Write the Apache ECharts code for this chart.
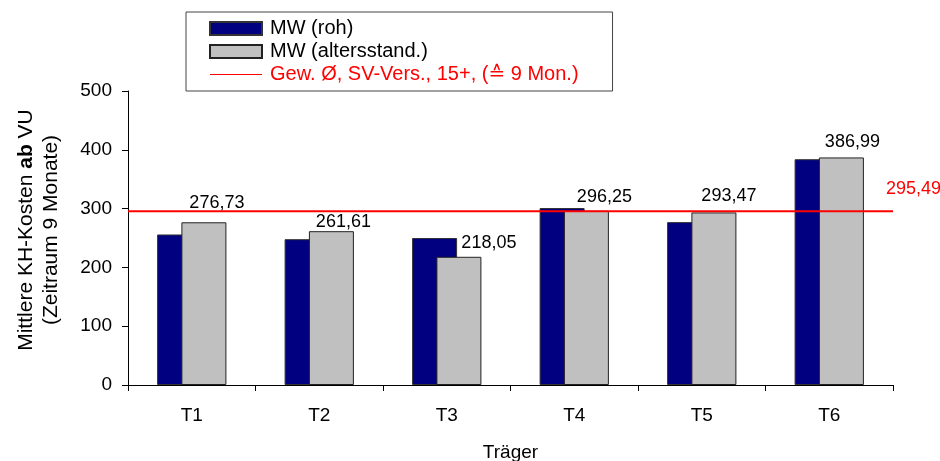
<!DOCTYPE html>
<html>
<head>
<meta charset="utf-8">
<script src="https://cdn.jsdelivr.net/npm/echarts@6/dist/echarts.min.js"></script>
<style>
  html, body { margin: 0; padding: 0; background: #fff; }
  #chart { width: 940px; height: 461px; }
</style>
</head>
<body>
<div id="chart"></div>
<script>
// Mean hospital costs per carrier: raw vs. age-standardized
const categories = ['T1', 'T2', 'T3', 'T4', 'T5', 'T6'];
const rawValues = [256, 248, 250, 301, 277, 384];
const standardizedValues = [276.73, 261.61, 218.05, 296.25, 293.47, 386.99];
const weightedAverage = 295.49;
const seriesNames = ['MW (roh)', 'MW (altersstand.)', 'Gew. Ø, SV-Vers., 15+, (≙ 9 Mon.)'];
const yAxisMin = 0;
const yAxisMax = 500;
const yAxisStep = 100;

// per-bar label nudges for the standardized values
const labelOffsets = [[13, -5], [12, 5], [30, 0], [18, 0], [15, -2], [11, -1]];

const FONT = "'Liberation Sans', Arial, 'DejaVu Sans', sans-serif";
const RED = '#ff0000';
const fmt = v => v.toFixed(2).replace('.', ',');

// thin horizontal stroke icon for the reference-line legend entry
const LINE_ICON = 'path://M0,0L0,0M0,6L52,6L52,7L0,7ZM52,13L52,13';

const chart = echarts.init(document.getElementById('chart'), null, { renderer: 'canvas' });

chart.setOption({
  animation: false,
  backgroundColor: '#ffffff',
  textStyle: { fontFamily: FONT },
  grid: { left: 128, right: 47, top: 91, bottom: 76, containLabel: false, outerBoundsMode: 'none' },
  legend: {
    orient: 'vertical',
    left: 186,
    top: 12,
    padding: [5, 34, 5, 23],
    borderColor: '#444',
    borderWidth: 1,
    itemWidth: 52,
    itemHeight: 13,
    itemGap: 0,
    selectedMode: false,
    textStyle: { fontFamily: FONT, fontSize: 20, color: '#000', lineHeight: 23, padding: [0, 0, 0, 3] },
    data: [
      { name: seriesNames[0], icon: 'rect' },
      { name: seriesNames[1], icon: 'rect' },
      { name: seriesNames[2], icon: LINE_ICON, itemStyle: { color: RED }, textStyle: { color: RED } }
    ]
  },
  xAxis: [
    {
      type: 'category',
      data: categories,
      boundaryGap: true,
      name: 'Träger',
      nameLocation: 'middle',
      nameGap: 58,
      nameTextStyle: { fontFamily: FONT, fontSize: 19, color: '#000' },
      axisLine: { lineStyle: { color: '#000', width: 1 } },
      axisTick: { show: true, alignWithLabel: false, length: 6, lineStyle: { color: '#000' } },
      axisLabel: { fontFamily: FONT, fontSize: 19, color: '#000', margin: 21 },
      splitLine: { show: false }
    },
    {
      // hidden 0..1 span so the average line runs across the full plot width
      type: 'value',
      min: 0,
      max: 1,
      show: false
    }
  ],
  yAxis: {
    type: 'value',
    min: yAxisMin,
    max: yAxisMax,
    interval: yAxisStep,
    name: '{a|Mittlere KH-Kosten }{b|ab}{a| VU}\n{a|(Zeitraum 9 Monate)}',
    nameLocation: 'middle',
    nameRotate: 90,
    nameGap: 64,
    nameTextStyle: {
      fontFamily: FONT,
      fontSize: 21,
      color: '#000',
      lineHeight: 25,
      padding: [0, 0, 0, 16],
      rich: {
        a: { fontFamily: FONT, fontSize: 21, color: '#000', lineHeight: 25 },
        b: { fontFamily: FONT, fontSize: 21, color: '#000', fontWeight: 'bold', lineHeight: 25 }
      }
    },
    axisLine: { show: true, lineStyle: { color: '#000', width: 1 } },
    axisTick: { show: true, length: 6, lineStyle: { color: '#000' } },
    axisLabel: { fontFamily: FONT, fontSize: 19, color: '#000', margin: 16 },
    splitLine: { show: false }
  },
  series: [
    {
      name: seriesNames[0],
      type: 'bar',
      data: rawValues,
      barWidth: 45,
      barGap: '-46%',
      itemStyle: { color: '#000080', borderColor: '#333', borderWidth: 1 },
      z: 2
    },
    {
      name: seriesNames[1],
      type: 'bar',
      data: standardizedValues.map((v, i) => ({
        value: v,
        label: { offset: labelOffsets[i] }
      })),
      barWidth: 45,
      barGap: '-46%',
      itemStyle: { color: '#c0c0c0', borderColor: '#222', borderWidth: 1 },
      label: {
        show: true,
        position: 'top',
        distance: 5,
        fontFamily: FONT,
        fontSize: 18,
        color: '#000',
        formatter: p => fmt(p.value)
      },
      z: 3
    },
    {
      name: seriesNames[2],
      type: 'line',
      xAxisIndex: 1,
      data: [[0, weightedAverage], [1, weightedAverage]],
      symbol: 'none',
      silent: true,
      color: RED,
      lineStyle: { color: RED, width: 2, opacity: 1 },
      itemStyle: { color: RED },
      emphasis: { disabled: true },
      z: 5,
      endLabel: {
        show: true,
        distance: 5,
        offset: [-12, -22],
        fontFamily: FONT,
        fontSize: 18,
        color: RED,
        formatter: () => fmt(weightedAverage)
      }
    }
  ]
});
</script>
</body>
</html>
